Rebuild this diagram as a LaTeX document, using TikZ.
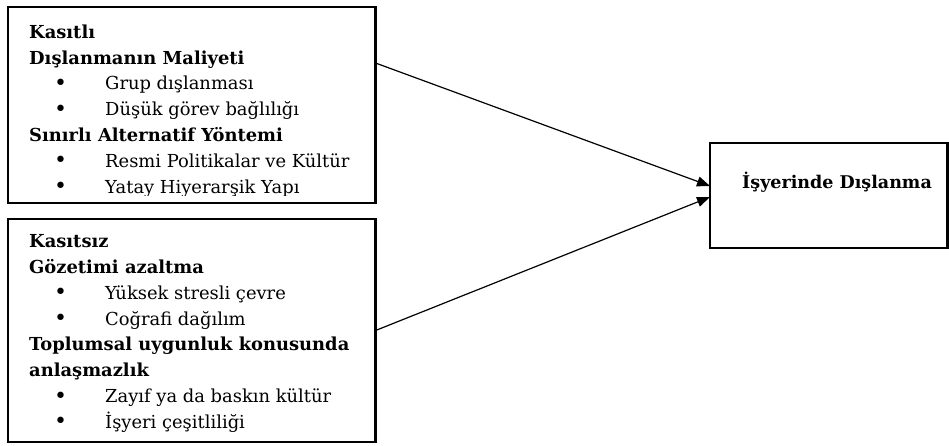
\documentclass[tikz,border=0pt]{standalone}
\usepackage{fontspec}
\setmainfont{DejaVu Serif}
\usetikzlibrary{positioning,arrows.meta}
\newcommand{\madde}[1]{\makebox[76pt][l]{\hspace*{25pt}\raisebox{-0.5pt}{\fontsize{22}{22}\selectfont•}}#1}

\begin{document}
\begin{tikzpicture}[x=1pt,y=-1pt,
  kutu/.style={draw,line width=2.2pt,inner sep=0pt,outer sep=0pt},
  yazi/.style={inner sep=0pt,align=left,font=\fontsize{17.9}{25.8}\selectfont},
  ok/.style={line width=1.2pt,-{Triangle[length=13pt,width=10pt]}}]
\useasboundingbox (0,0) rectangle (949,445);

% Boxes
\node[kutu,minimum width=367.5pt,minimum height=196pt] (kasitli) at (191.75,105) {};
\node[kutu,minimum width=367.5pt,minimum height=223pt] (kasitsiz) at (191.75,330.5) {};
\node[kutu,minimum width=237.5pt,minimum height=105pt] (sonuc) at (828.75,195.5) {};

% Box texts
\begin{scope}
\clip ([shift={(0pt,8pt)}]kasitli.south west) rectangle (kasitli.north east);
\node[yazi,anchor=north west] (metin1) at (29,24.5) {\textbf{Kasıtlı}\\
  \textbf{Dışlanmanın Maliyeti}\\
  \madde{Grup dışlanması}\\
  \madde{Düşük görev bağlılığı}\\
  \textbf{Sınırlı Alternatif Yöntemi}\\
  \madde{Resmi Politikalar ve Kültür}\\
  \madde{Yatay Hiyerarşik Yapı}};
\end{scope}
\node[yazi,anchor=north west] (metin2) at (29,234.5) {\textbf{Kasıtsız}\\
  \textbf{Gözetimi azaltma}\\
  \madde{Yüksek stresli çevre}\\
  \madde{Coğrafi dağılım}\\
  \textbf{Toplumsal uygunluk konusunda}\\
  \textbf{anlaşmazlık}\\
  \madde{Zayıf ya da baskın kültür}\\
  \madde{İşyeri çeşitliliği}};
\node[anchor=base west,inner sep=0pt,font=\bfseries\fontsize{17.5}{20}\selectfont] (baslik) at (742,188) {İşyerinde Dışlanma};

% Arrows
\draw[ok] ([yshift=-56pt]kasitli.north east) -- ([yshift=9.5pt]sonuc.west);
\draw[ok] (kasitsiz.east) -- ([yshift=-1.5pt]sonuc.west);
\end{tikzpicture}
\end{document}
